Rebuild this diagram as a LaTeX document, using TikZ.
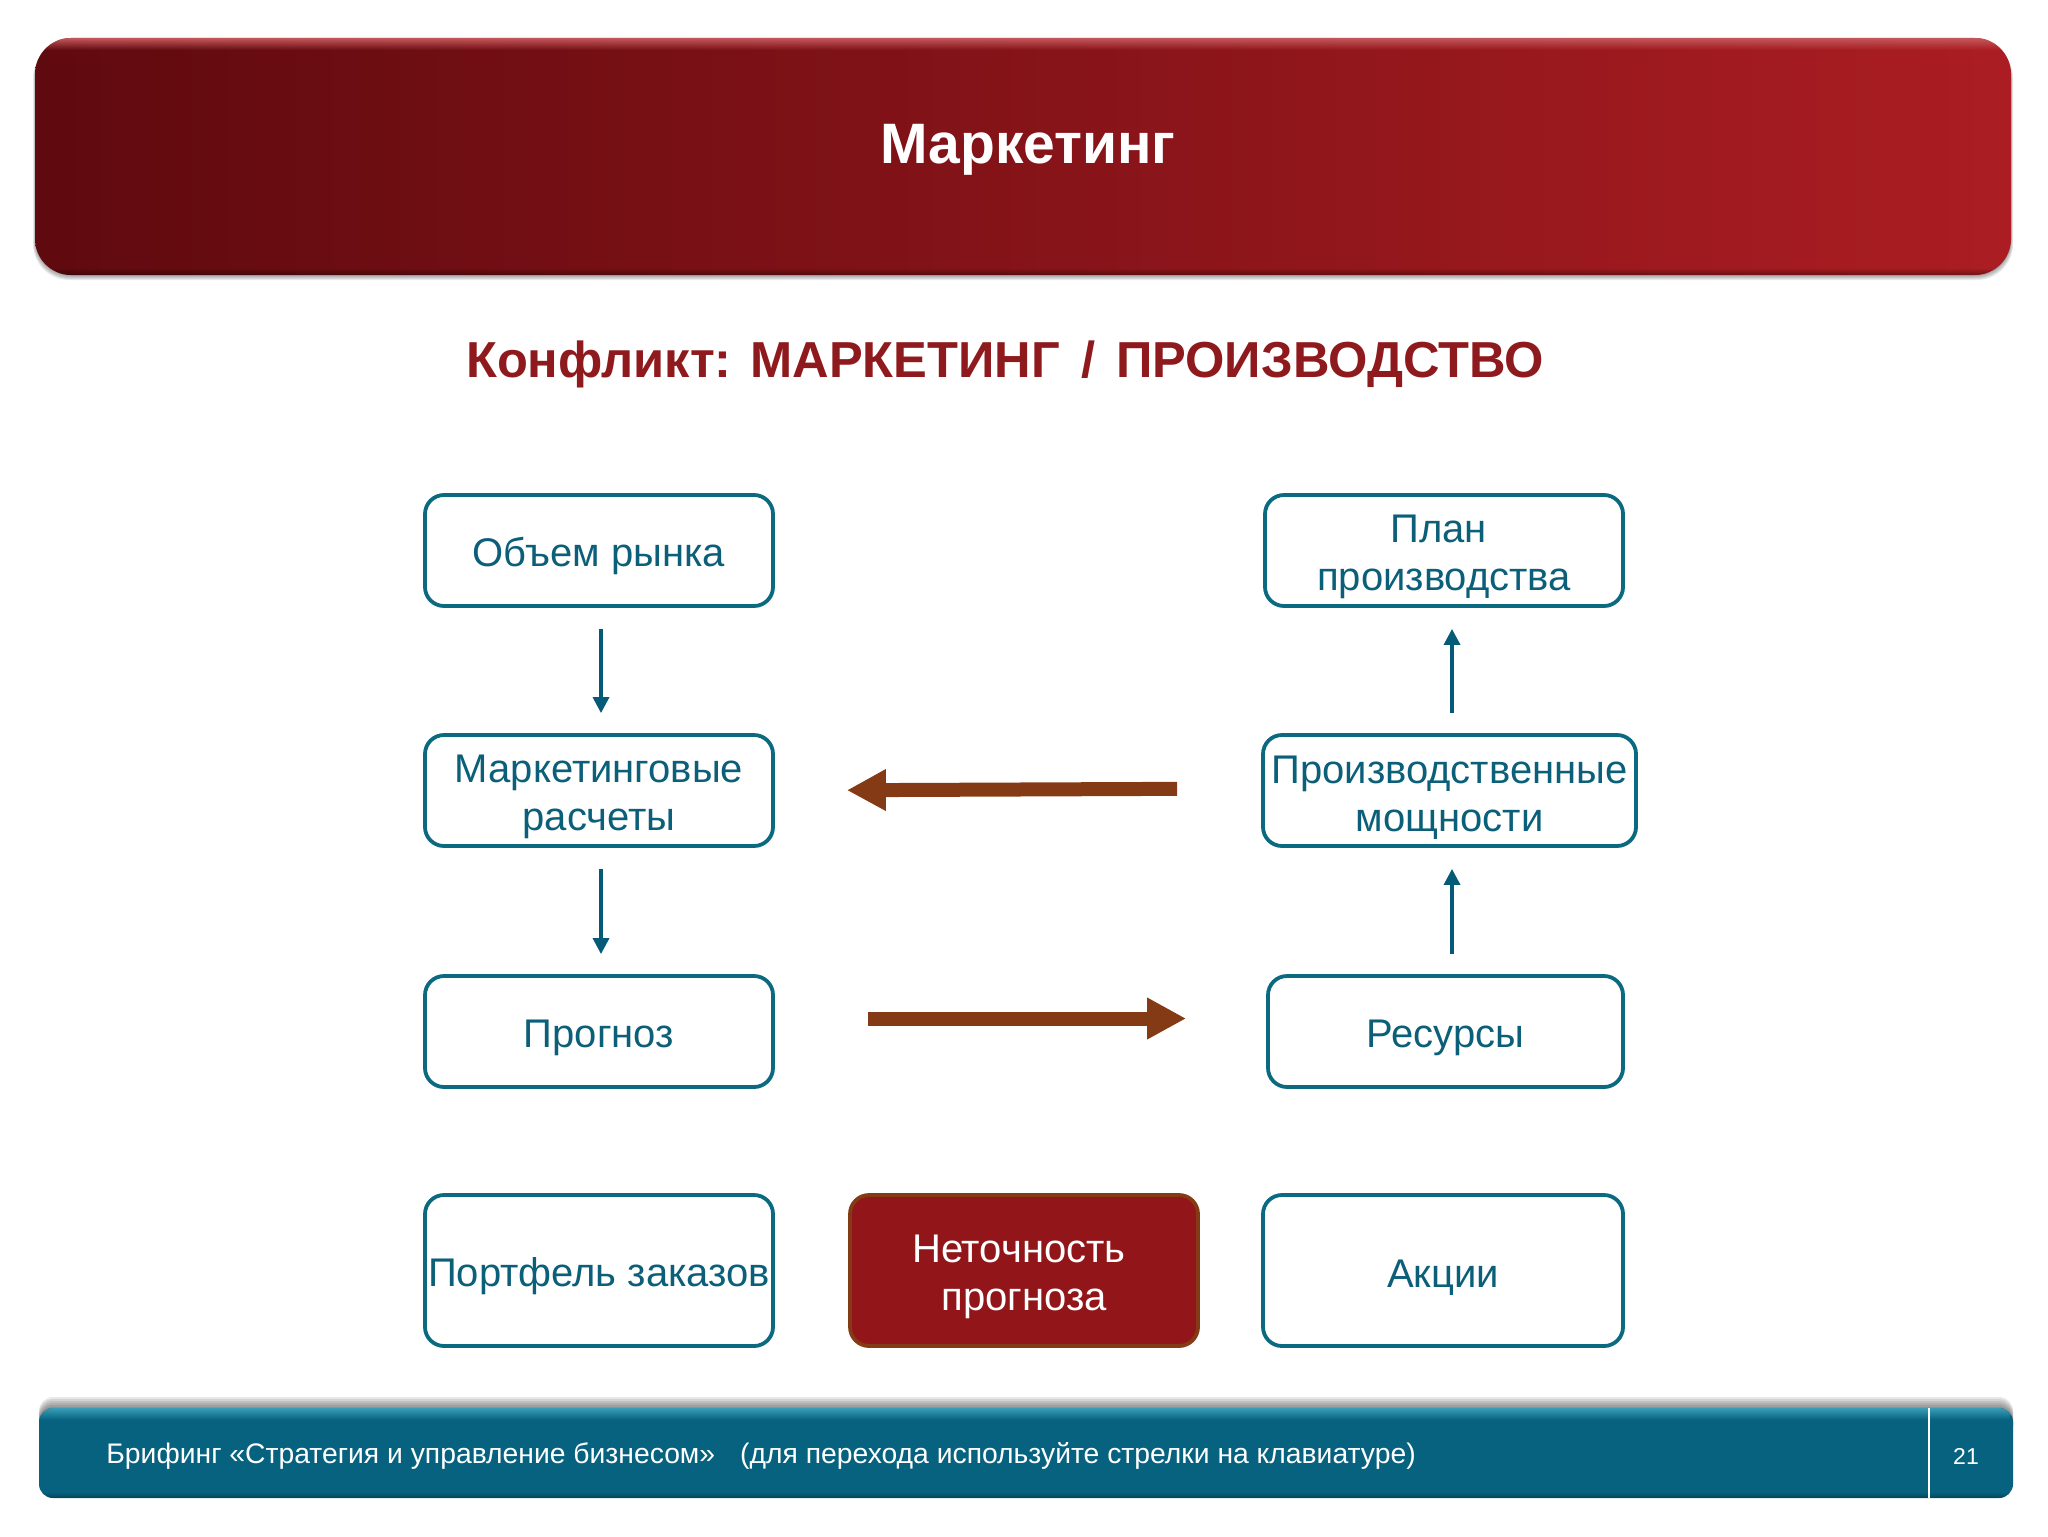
\documentclass[tikz,border=0pt]{standalone}
\usepackage{fontspec}
\setmainfont{Liberation Sans}
\usetikzlibrary{arrows.meta,fadings}

\definecolor{tealline}{HTML}{0B6A80}
\definecolor{tealtext}{HTML}{0B5F78}
\definecolor{arrowteal}{HTML}{055A78}
\definecolor{arrowbrown}{HTML}{843A14}
\definecolor{darkred}{HTML}{8F1A1E}
\definecolor{boxred}{HTML}{921619}
\definecolor{footerteal}{HTML}{06627F}
\definecolor{footersheen}{HTML}{3A9DB8}
\definecolor{headleft}{HTML}{5F0A0F}
\definecolor{headmid}{HTML}{8A1218}
\definecolor{headright}{HTML}{AB1D22}
\definecolor{headsheen}{HTML}{C4585C}

\newcommand{\boxlift}{\rule{0pt}{20.5pt}}

\tikzset{
  flowbox/.style={draw=tealline, line width=1.9pt, rounded corners=9.5pt, fill=white, text=tealtext,
    align=center, inner sep=0pt, font=\fontsize{20}{24}\selectfont},
  redbox/.style={flowbox, draw=arrowbrown, fill=boxred, text=white},
  thinarrow/.style={draw=arrowteal, line width=1.7pt, -{Triangle[length=8pt,width=8pt]}},
  bigarrow/.style={draw=arrowbrown, line width=7pt, -{Triangle[length=19.5pt,width=19.5pt]}},
}

\begin{document}
\begin{tikzpicture}[x=0.5pt, y=-0.5pt]
\useasboundingbox (0,0) rectangle (2048,1536);

% header
\foreach \d in {0,1,2,3,4}
  \fill[black, opacity=0.08, rounded corners=18pt] (35-\d/2,42) rectangle (2011+\d/2,276+\d);
\node[minimum width=988pt, minimum height=118.5pt, inner sep=0pt, rounded corners=18pt,
  left color=headleft, middle color=headmid, right color=headright] (header) at (1023,156.5) {};
\node[text=white, inner sep=0pt, font=\bfseries\fontsize{28.5}{34}\selectfont] (headertext) at (1028,149.5) {Маркетинг};
\begin{scope}
  \clip[rounded corners=18pt] (35,38) rectangle (2011,275);
  \fill[headsheen, path fading=south] (35,38) rectangle (2011,50);
  \fill[black, opacity=0.35, path fading=north] (35,268) rectangle (2011,275);
\end{scope}

\node[text=darkred, inner sep=0pt, font=\bfseries\fontsize{25.3}{30}\selectfont] (subtitle) at (1005,364) {Конфликт: МАРКЕТИНГ\hspace{10.5pt}/\hspace{10.5pt}ПРОИЗВОДСТВО};

% left column
\node[flowbox, minimum width=174pt, minimum height=55.5pt] (market) at (599,550.5) {\boxlift Объем рынка};
\node[flowbox, minimum width=174pt, minimum height=55.5pt] (calc) at (599,790.5) {\boxlift Маркетинговые\\расчеты};
\node[flowbox, minimum width=174pt, minimum height=55.5pt] (forecast) at (599,1031.5) {\boxlift Прогноз};
\node[flowbox, minimum width=174pt, minimum height=75.5pt] (orders) at (599,1270.5) {\boxlift Портфель заказов};

% right column
\node[flowbox, minimum width=179pt, minimum height=55.5pt] (plan) at (1444,550.5) {\boxlift План\hspace*{5.2pt}\\производства};
\node[flowbox, minimum width=186.5pt, minimum height=55.5pt] (capacity) at (1449.5,790.5) {\boxlift Производственные\\мощности};
\node[flowbox, minimum width=177.5pt, minimum height=55.5pt] (resources) at (1445.5,1031.5) {\boxlift Ресурсы};
\node[flowbox, minimum width=180pt, minimum height=75.5pt] (stocks) at (1443,1270.5) {\boxlift Акции};

% middle
\node[redbox, minimum width=174pt, minimum height=75.5pt] (error) at (1024,1270.5) {\boxlift Неточность\hspace*{5.2pt}\\прогноза};

% arrows
\draw[thinarrow, shorten <=10.5pt, shorten >=10pt] ([xshift=1pt]market.south) -- ([xshift=1pt]calc.north);
\draw[thinarrow, shorten <=10.5pt, shorten >=10pt] ([xshift=1pt]calc.south) -- ([xshift=1pt]forecast.north);
\draw[thinarrow, shorten <=10pt, shorten >=10.5pt] ([xshift=4pt]capacity.north -| plan.south) -- ([xshift=4pt]plan.south);
\draw[thinarrow, shorten <=10pt, shorten >=10.5pt] ([xshift=4pt]resources.north -| plan.south) -- ([xshift=4pt]capacity.south -| plan.south);
\draw[bigarrow, shorten <=42pt, shorten >=36pt] ([yshift=1pt]capacity.west) -- (calc.east);
\draw[bigarrow, shorten <=46.5pt, shorten >=40pt] ([yshift=6.5pt]forecast.east) -- ([yshift=6.5pt]resources.west);

% footer
\foreach \d in {0,1,2,3,4,5}
  \fill[black, opacity=0.09, rounded corners=7pt] (39,1397+2*\d) rectangle (2013,1440);
\node[minimum width=987pt, minimum height=45pt, inner sep=0pt, rounded corners=7pt, fill=footerteal] (footer) at (1026,1453) {};
\begin{scope}
  \clip[rounded corners=7pt] (39,1408) rectangle (2013,1498);
  \fill[footersheen, path fading=south] (39,1408) rectangle (2013,1420);
  \fill[black, opacity=0.30, path fading=north] (39,1492) rectangle (2013,1498);
\end{scope}
\node[anchor=west, text=white, inner sep=0pt, font=\fontsize{14.15}{17}\selectfont] (brief) at (106,1455.5) {Брифинг «Стратегия и управление бизнесом»\hspace{12.5pt}(для перехода используйте стрелки на клавиатуре)};
\node[text=white, inner sep=0pt, font=\fontsize{11.5}{14}\selectfont] (page) at (1966,1456) {21};
\coordinate (divtop) at (1929,1408);
\coordinate (divbot) at (1929,1498);
\draw[white, line width=0.6pt] (divtop) -- (divbot);
\end{tikzpicture}
\end{document}
